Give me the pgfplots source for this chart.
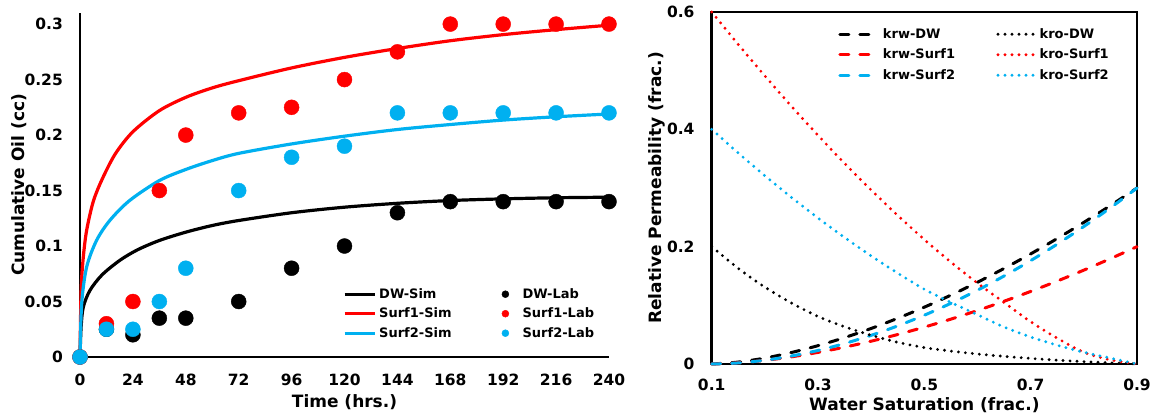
\documentclass[border=0pt]{standalone}
\usepackage{fontspec}
\setmainfont{DejaVu Sans}
\usepackage{pgfplots}
\pgfplotsset{compat=1.18}
\definecolor{xlred}{RGB}{255,0,0}
\definecolor{xlblue}{RGB}{0,176,240}
\pgfplotsset{
  simleg/.style={legend image code/.code={\draw[##1] (0bp,0bp) -- (30bp,0bp);}},
  lableg/.style={legend image code/.code={\path (14bp,0bp); \fill[##1] (0bp,0bp) circle (3.5bp);}},
  krwleg/.style={legend image code/.code={\draw[##1] (0bp,0bp) -- (33bp,0bp); \path (37bp,0bp);}},
  kroleg/.style={legend image code/.code={\draw[##1] (0bp,0bp) -- (35.5bp,0bp);}},
  sim/.style={line width=3.2bp, smooth, tension=0.5},
  lab/.style={only marks, mark=*, mark size=7.5bp, mark options={draw=none}},
  krw/.style={line width=3bp, dash pattern=on 9bp off 11bp, line cap=round, smooth},
  kro/.style={line width=3.2bp, dash pattern=on 0bp off 7bp, line cap=round, smooth},
}
\newcommand{\tickfont}{\bfseries\fontsize{15.5bp}{18bp}\selectfont}
\newcommand{\labfont}{\bfseries\fontsize{17bp}{20bp}\selectfont}
\newcommand{\legfont}{\bfseries\fontsize{13bp}{15bp}\selectfont}
\begin{document}
\begin{tikzpicture}
\useasboundingbox (0,0) rectangle (1159bp,418bp);
% ---------------- left chart ----------------
\begin{axis}[
  at={(80bp,61bp)}, anchor=south west,
  scale only axis, width=529bp, height=344bp,
  xmin=0, xmax=240, ymin=0, ymax=0.31,
  axis x line=bottom, axis y line=left,
  axis line style={-, line width=2bp, black},
  xtick={0,24,48,72,96,120,144,168,192,216,240},
  ytick={0,0.05,0.1,0.15,0.2,0.25,0.3},
  yticklabels={0,0.05,0.1,0.15,0.2,0.25,0.3},
  major tick length=0pt,
  tick label style={font=\tickfont, /pgf/number format/assume math mode=true},
  xticklabel style={anchor=north, inner sep=0pt},
  yticklabel style={anchor=east, inner sep=0pt},
  xticklabel shift=17bp, yticklabel shift=17bp,
  clip=false,
  xlabel={Time (hrs.)}, ylabel={Cumulative Oil (cc)},
  label style={font=\labfont},
  xlabel style={at={(axis description cs:0.5,-0.13)}, anchor=center},
  ylabel style={at={(axis description cs:-0.1153,0.5)}, anchor=center},
  legend columns=2, legend cell align=left,
  legend style={at={(0.4972,0.2)}, anchor=north west, draw=none, fill=none,
    inner sep=0pt, outer sep=0pt, font=\legfont, row sep=7.5bp,
    nodes={inner sep=0pt, text height=10bp, text depth=2bp},
    /tikz/every odd column/.append style={column sep=3bp},
    /tikz/every even column/.append style={column sep=50bp}},
]
\addplot[sim, black, forget plot] coordinates {(0,0) (0.5,0.027) (1.5,0.045) (4.5,0.060) (10,0.074) (18,0.087) (26,0.0965) (36,0.105) (48,0.1125) (60,0.1185) (72,0.123) (96,0.130) (120,0.135) (144,0.1385) (168,0.141) (192,0.1425) (216,0.1435) (240,0.144)};
\addplot[sim, xlred, forget plot] coordinates {(0,0) (0.5,0.06) (1.5,0.09) (3,0.114) (6,0.140) (10,0.160) (16,0.183) (24,0.203) (36,0.222) (48,0.234) (60,0.2425) (72,0.249) (96,0.2605) (120,0.270) (144,0.278) (168,0.285) (192,0.2905) (216,0.295) (240,0.299)};
\addplot[sim, xlblue, forget plot] coordinates {(0,0) (0.75,0.048) (3,0.081) (7.5,0.105) (13.5,0.123) (22.5,0.141) (36,0.159) (48,0.169) (60,0.177) (72,0.1835) (96,0.192) (120,0.199) (144,0.205) (168,0.2095) (192,0.2135) (216,0.2165) (240,0.219)};
\addplot[lab, black, forget plot] coordinates {(0,0) (12,0.025) (24,0.02) (36,0.035) (48,0.035) (72,0.05) (96,0.08) (120,0.1) (144,0.13) (168,0.14) (192,0.14) (216,0.14) (240,0.14)};
\addplot[lab, xlred, forget plot] coordinates {(0,0) (12,0.03) (24,0.05) (36,0.15) (48,0.2) (72,0.22) (96,0.225) (120,0.25) (144,0.275) (168,0.3) (192,0.3) (216,0.3) (240,0.3)};
\addplot[lab, xlblue, forget plot] coordinates {(0,0) (12,0.025) (24,0.025) (36,0.05) (48,0.08) (72,0.15) (96,0.18) (120,0.19) (144,0.22) (168,0.22) (192,0.22) (216,0.22) (240,0.22)};
\addlegendimage{simleg, black, line width=3.2bp}\addlegendentry{DW-Sim}
\addlegendimage{lableg, black}\addlegendentry{DW-Lab}
\addlegendimage{simleg, xlred, line width=3.2bp}\addlegendentry{Surf1-Sim}
\addlegendimage{lableg, xlred}\addlegendentry{Surf1-Lab}
\addlegendimage{simleg, xlblue, line width=3.2bp}\addlegendentry{Surf2-Sim}
\addlegendimage{lableg, xlblue}\addlegendentry{Surf2-Lab}
\end{axis}
% ---------------- right chart ----------------
\begin{axis}[
  at={(711.7bp,54bp)}, anchor=south west,
  scale only axis, width=425.3bp, height=352bp,
  xmin=0.1, xmax=0.9, ymin=0, ymax=0.6,
  axis line style={line width=2.5bp, black},
  xtick={0.1,0.3,0.5,0.7,0.9}, xticklabels={0.1,0.3,0.5,0.7,0.9},
  ytick={0,0.2,0.4,0.6}, yticklabels={0,0.2,0.4,0.6},
  major tick length=0pt,
  tick label style={font=\tickfont},
  xticklabel style={anchor=north, inner sep=0pt},
  yticklabel style={anchor=east, inner sep=0pt},
  xticklabel shift=15bp, yticklabel shift=17bp,
  clip=false,
  xlabel={Water Saturation (frac.)}, ylabel={Relative Permeability (frac.)},
  label style={font=\labfont},
  xlabel style={at={(axis description cs:0.5,-0.1165)}, anchor=center},
  ylabel style={at={(axis description cs:-0.1286,0.5)}, anchor=center},
  legend columns=2, legend cell align=left,
  legend style={at={(0.298,0.954)}, anchor=north west, draw=none, fill=none,
    inner sep=0pt, outer sep=0pt, font=\legfont, row sep=8.5bp,
    nodes={inner sep=0pt, text height=10bp, text depth=2bp},
    /tikz/every odd column/.append style={column sep=4.5bp},
    /tikz/every even column/.append style={column sep=41.3bp}},
]
\addplot[krw, black, forget plot] coordinates {(0.1,0) (0.15,0.0033) (0.2,0.0101) (0.25,0.0196) (0.3,0.0313) (0.35,0.0450) (0.4,0.0606) (0.45,0.0780) (0.5,0.0969) (0.55,0.1174) (0.6,0.1394) (0.65,0.1629) (0.7,0.1877) (0.75,0.2139) (0.8,0.2414) (0.85,0.2701) (0.9,0.3)};
\addplot[krw, xlred, forget plot] coordinates {(0.1,0) (0.15,0.0020) (0.2,0.0062) (0.25,0.0122) (0.3,0.0198) (0.35,0.0287) (0.4,0.0389) (0.45,0.0503) (0.5,0.0629) (0.55,0.0765) (0.6,0.0912) (0.65,0.1070) (0.7,0.1237) (0.75,0.1414) (0.8,0.1600) (0.85,0.1796) (0.9,0.2)};
\addplot[krw, xlblue, forget plot] coordinates {(0.1,0) (0.15,0.0018) (0.2,0.0064) (0.25,0.0136) (0.3,0.0231) (0.35,0.0349) (0.4,0.0489) (0.45,0.0650) (0.5,0.0832) (0.55,0.1035) (0.6,0.1258) (0.65,0.1500) (0.7,0.1762) (0.75,0.2043) (0.8,0.2344) (0.85,0.2662) (0.9,0.3)};
\addplot[kro, black, forget plot] coordinates {(0.1,0.2) (0.15,0.163) (0.2,0.131) (0.25,0.104) (0.3,0.081) (0.35,0.0635) (0.4,0.049) (0.45,0.037) (0.5,0.028) (0.55,0.022) (0.6,0.017) (0.65,0.013) (0.7,0.0095) (0.75,0.0065) (0.8,0.004) (0.85,0.002) (0.9,0)};
\addplot[kro, xlred, forget plot] coordinates {(0.1,0.6) (0.15,0.5446) (0.2,0.4911) (0.25,0.4394) (0.3,0.3897) (0.35,0.3420) (0.4,0.2965) (0.45,0.2531) (0.5,0.2121) (0.55,0.1736) (0.6,0.1378) (0.65,0.1048) (0.7,0.072) (0.75,0.044) (0.8,0.020) (0.85,0.007) (0.9,0)};
\addplot[kro, xlblue, forget plot] coordinates {(0.1,0.4) (0.15,0.3596) (0.2,0.3209) (0.25,0.2840) (0.3,0.2488) (0.35,0.2156) (0.4,0.1842) (0.45,0.1548) (0.5,0.1274) (0.55,0.105) (0.6,0.084) (0.65,0.063) (0.7,0.046) (0.75,0.032) (0.8,0.020) (0.85,0.010) (0.9,0)};
\addlegendimage{krwleg, black, line width=3bp, dash pattern=on 9bp off 11bp, line cap=round}\addlegendentry{krw-DW}
\addlegendimage{kroleg, black, line width=3.2bp, dash pattern=on 0bp off 7bp, line cap=round}\addlegendentry{kro-DW}
\addlegendimage{krwleg, xlred, line width=3bp, dash pattern=on 9bp off 11bp, line cap=round}\addlegendentry{krw-Surf1}
\addlegendimage{kroleg, xlred, line width=3.2bp, dash pattern=on 0bp off 7bp, line cap=round}\addlegendentry{kro-Surf1}
\addlegendimage{krwleg, xlblue, line width=3bp, dash pattern=on 9bp off 11bp, line cap=round}\addlegendentry{krw-Surf2}
\addlegendimage{kroleg, xlblue, line width=3.2bp, dash pattern=on 0bp off 7bp, line cap=round}\addlegendentry{kro-Surf2}
\end{axis}
\end{tikzpicture}
\end{document}
